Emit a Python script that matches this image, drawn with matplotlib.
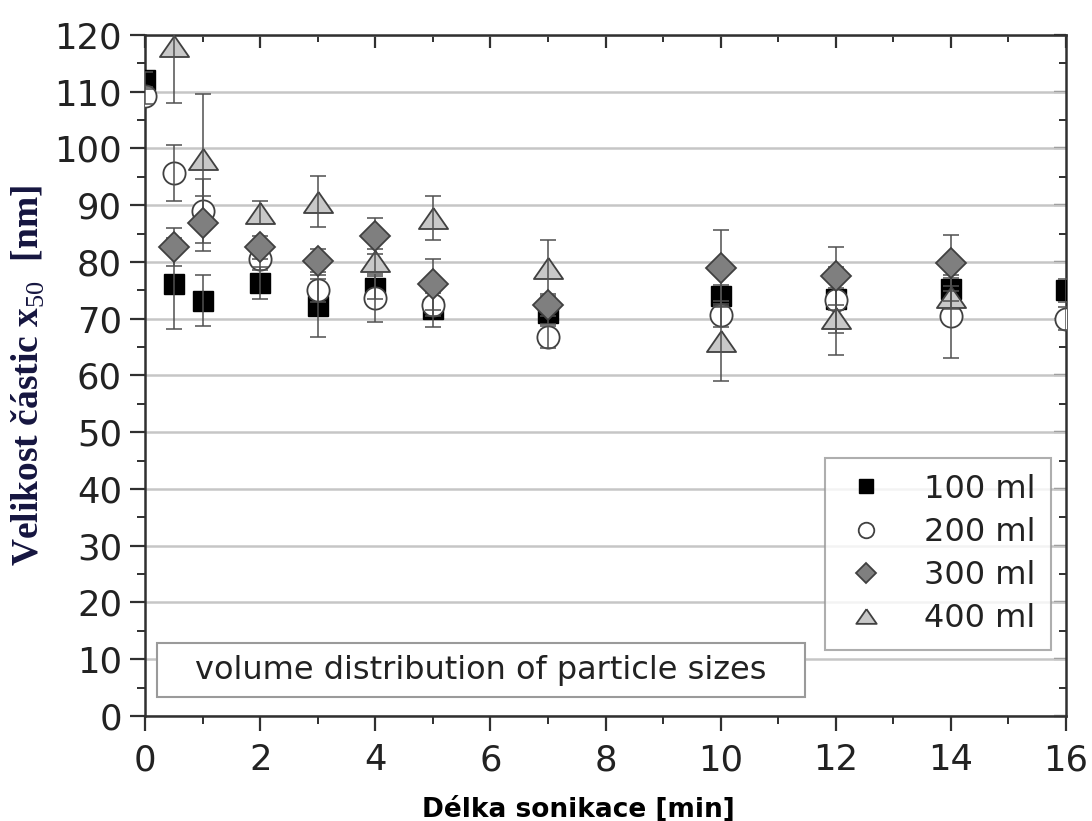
import numpy as np
import matplotlib
matplotlib.use("Agg")
import matplotlib.pyplot as plt
from matplotlib.ticker import MultipleLocator
from matplotlib.patches import Rectangle

# Sonication time [min]
t = [0, 0.5, 1, 2, 3, 4, 5, 7, 10, 12, 14, 16]

# Median particle size x50 [nm] per volume (NaN = not measured)
size_100 = [112.0, 76.2, 73.2, 76.3, 72.2, 75.5, 71.8, 71.0, 74.0, 73.5, 75.2, 75.0]
size_200 = [109.3, 95.7, 89.0, 80.5, 75.0, 73.6, 72.5, 66.8, 70.6, 73.3, 70.4, 70.0]
size_300 = [np.nan, 82.6, 86.8, 82.6, 80.2, 84.6, 76.1, 72.4, 79.0, 77.5, 79.8, np.nan]
size_400 = [np.nan, 118.0, 98.2, 88.7, 90.6, 80.2, 87.8, 78.9, 66.1, 70.2, 73.8, np.nan]

# Standard deviations
err_100 = [1.5, 8.0, 4.5, 2.8, 5.5, 2.0, 3.3, 2.0, 2.0, 2.0, 2.0, 2.0]
err_200 = [1.5, 5.0, 5.6, 2.0, 2.0, 4.2, 2.0, 2.0, 2.0, 5.9, 7.3, 2.0]
err_300 = [np.nan, 3.3, 4.8, 2.0, 2.0, 3.2, 4.5, 2.0, 6.7, 5.1, 4.9, np.nan]
err_400 = [np.nan, 10.0, 11.4, 2.0, 4.5, 2.0, 3.9, 4.9, 7.0, 6.6, 2.0, np.nan]

labels = ["100 ml", "200 ml", "300 ml", "400 ml"]
x_ticks = [0, 2, 4, 6, 8, 10, 12, 14, 16]
y_ticks = list(range(0, 121, 10))

plt.rcParams["mathtext.fontset"] = "custom"
plt.rcParams["mathtext.rm"] = "Liberation Serif"
plt.rcParams["mathtext.bf"] = "Liberation Serif:bold"

fig = plt.figure(figsize=(10.92, 8.21), dpi=100)
ax = fig.add_axes([0.1328, 0.1279, 0.8434, 0.8295])

# flattened triangle marker
tri = [(0, 0.72), (-1, -0.72), (1, -0.72), (0, 0.72)]

styles = [
    dict(marker="s", ms=15, mfc="black", mec="black", mew=1.0, zorder=3),
    dict(marker="o", ms=16, mfc="white", mec="#404040", mew=1.3, zorder=4),
    dict(marker="D", ms=15, mfc="#7f7f7f", mec="#404040", mew=1.3, zorder=7),
    dict(marker=tri, ms=21, mfc="#c8c8c8", mec="#404040", mew=1.3, zorder=5),
]
series = [size_100, size_200, size_300, size_400]
errors = [err_100, err_200, err_300, err_400]

handles = []
for y, e, st, lab in zip(series, errors, styles, labels):
    ax.errorbar(t, y, yerr=e, fmt="none", ecolor="#505050", elinewidth=1.1,
                capsize=5.5, capthick=1.1, zorder=6)
    h, = ax.plot(t, y, linestyle="none", label=lab, **st)
    handles.append(h)

ax.set_xlim(0, 16)
ax.set_ylim(0, 120)
ax.set_xticks(x_ticks)
ax.set_yticks(y_ticks)
ax.xaxis.set_minor_locator(MultipleLocator(1))
ax.yaxis.set_minor_locator(MultipleLocator(5))

ax.yaxis.grid(True, which="major", color="#c6c6c6", linewidth=1.8, zorder=0)
ax.set_axisbelow(True)

for sp in ax.spines.values():
    sp.set_linewidth(1.8)
    sp.set_color("#303030")

ax.tick_params(axis="both", which="major", labelsize=25.5, colors="#303030",
               labelcolor="#222222", width=1.6, length=10.5)
ax.tick_params(axis="x", which="major", pad=9)
ax.tick_params(axis="y", which="major", pad=6)
ax.tick_params(axis="both", which="minor", colors="#303030", width=1.4, length=5.5)
ax.tick_params(axis="both", which="both", direction="out", top=False, right=False)

# mirrored ticks on top/right point inward
sec_x = ax.secondary_xaxis("top")
sec_x.set_xticks(x_ticks)
sec_x.xaxis.set_minor_locator(MultipleLocator(1))
sec_x.tick_params(which="major", direction="in", length=9, width=1.6, labeltop=False,
                  colors="#303030")
sec_x.tick_params(which="minor", direction="in", length=5, width=1.4, colors="#303030")
sec_y = ax.secondary_yaxis("right")
sec_y.set_yticks(y_ticks)
sec_y.yaxis.set_minor_locator(MultipleLocator(5))
sec_y.tick_params(which="major", direction="in", length=9, width=1.6, labelright=False,
                  colors="#303030")
sec_y.tick_params(which="minor", direction="in", length=5, width=1.4, colors="#303030")
for s in (sec_x, sec_y):
    for sp in s.spines.values():
        sp.set_visible(False)

ax.set_xlabel("Délka sonikace [min]", fontsize=19, fontweight="bold",
              family="DejaVu Sans", labelpad=14, color="black")
ax.xaxis.set_label_coords(0.471, -0.118)

ax.set_ylabel(r"Velikost částic x$_{\mathrm{50}}$  [nm]", fontsize=27, fontweight="bold",
              family="Liberation Serif", color="#15153f", labelpad=5)

leg = ax.legend(handles=handles, loc="lower right", bbox_to_anchor=(0.984, 0.097),
                fontsize=23, frameon=True, fancybox=False, markerscale=0.7,
                handletextpad=1.0, labelspacing=0.38, borderpad=0.5,
                handlelength=1.6, borderaxespad=0)
leg.get_frame().set_edgecolor("#9a9a9a")
leg.get_frame().set_linewidth(1.5)
for txt in leg.get_texts():
    txt.set_color("#222222")

# caption box
ax.add_patch(Rectangle((0.013, 0.028), 0.7036, 0.079, transform=ax.transAxes,
                       facecolor="white", edgecolor="#9a9a9a", linewidth=1.5, zorder=8))
ax.text(0.0543, 0.0675, "volume distribution of particle sizes", transform=ax.transAxes,
        fontsize=23, color="#222222", va="center", ha="left", zorder=9)

fig.savefig("out.png", dpi=100)
